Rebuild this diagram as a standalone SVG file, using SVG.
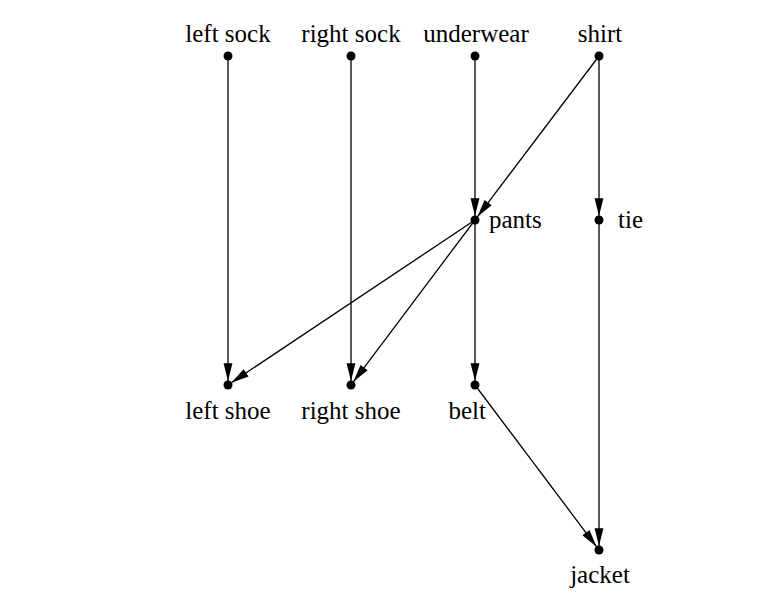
<svg xmlns="http://www.w3.org/2000/svg" width="761" height="593" viewBox="0 0 761 593">
<style>
text{font-family:"Liberation Serif","Times New Roman",serif;font-size:25px;fill:#000}
.e{stroke:#000;stroke-width:1.3;fill:none;marker-end:url(#ah)}
.d{fill:#000}
</style>
<defs>
<marker id="ah" markerUnits="userSpaceOnUse" markerWidth="20" markerHeight="12" viewBox="-17 -5 18 10" refX="0" refY="0" orient="auto">
<path d="M0,0 L-16,-4 L-16,4 Z" fill="#000"/>
</marker>
</defs>
<rect width="761" height="593" fill="#fff"/>
<g id="connectors">
<line class="e" x1="228" y1="56" x2="228" y2="381"/>
<line class="e" x1="351" y1="56" x2="351" y2="381"/>
<line class="e" x1="475" y1="56" x2="475" y2="216"/>
<line class="e" x1="599" y1="56" x2="477.4" y2="216.8"/>
<line class="e" x1="599" y1="56" x2="599" y2="216"/>
<line class="e" x1="475" y1="220" x2="231.3" y2="382.8"/>
<line class="e" x1="475" y1="220" x2="353.4" y2="381.8"/>
<line class="e" x1="475" y1="220" x2="475" y2="381"/>
<line class="e" x1="475" y1="385" x2="596.6" y2="546.8"/>
<line class="e" x1="599" y1="220" x2="599" y2="546"/>
</g>
<g id="left-sock"><circle class="d" cx="228" cy="56" r="4.5"/><text x="228" y="42" text-anchor="middle">left sock</text></g>
<g id="right-sock"><circle class="d" cx="351" cy="56" r="4.5"/><text x="351" y="42" text-anchor="middle">right sock</text></g>
<g id="underwear"><circle class="d" cx="475" cy="56" r="4.5"/><text x="476" y="42" text-anchor="middle">underwear</text></g>
<g id="shirt"><circle class="d" cx="599" cy="56" r="4.5"/><text x="600" y="42" text-anchor="middle">shirt</text></g>
<g id="pants"><circle class="d" cx="475" cy="220" r="4.5"/><text x="489" y="228">pants</text></g>
<g id="tie"><circle class="d" cx="599" cy="220" r="4.5"/><text x="618" y="228">tie</text></g>
<g id="left-shoe"><circle class="d" cx="228" cy="385" r="4.5"/><text x="228" y="419" text-anchor="middle">left shoe</text></g>
<g id="right-shoe"><circle class="d" cx="351" cy="385" r="4.5"/><text x="351" y="419" text-anchor="middle">right shoe</text></g>
<g id="belt"><circle class="d" cx="475" cy="385" r="4.5"/><text x="486" y="419" text-anchor="end">belt</text></g>
<g id="jacket"><circle class="d" cx="599" cy="550" r="4.5"/><text x="600" y="583" text-anchor="middle">jacket</text></g>
</svg>
